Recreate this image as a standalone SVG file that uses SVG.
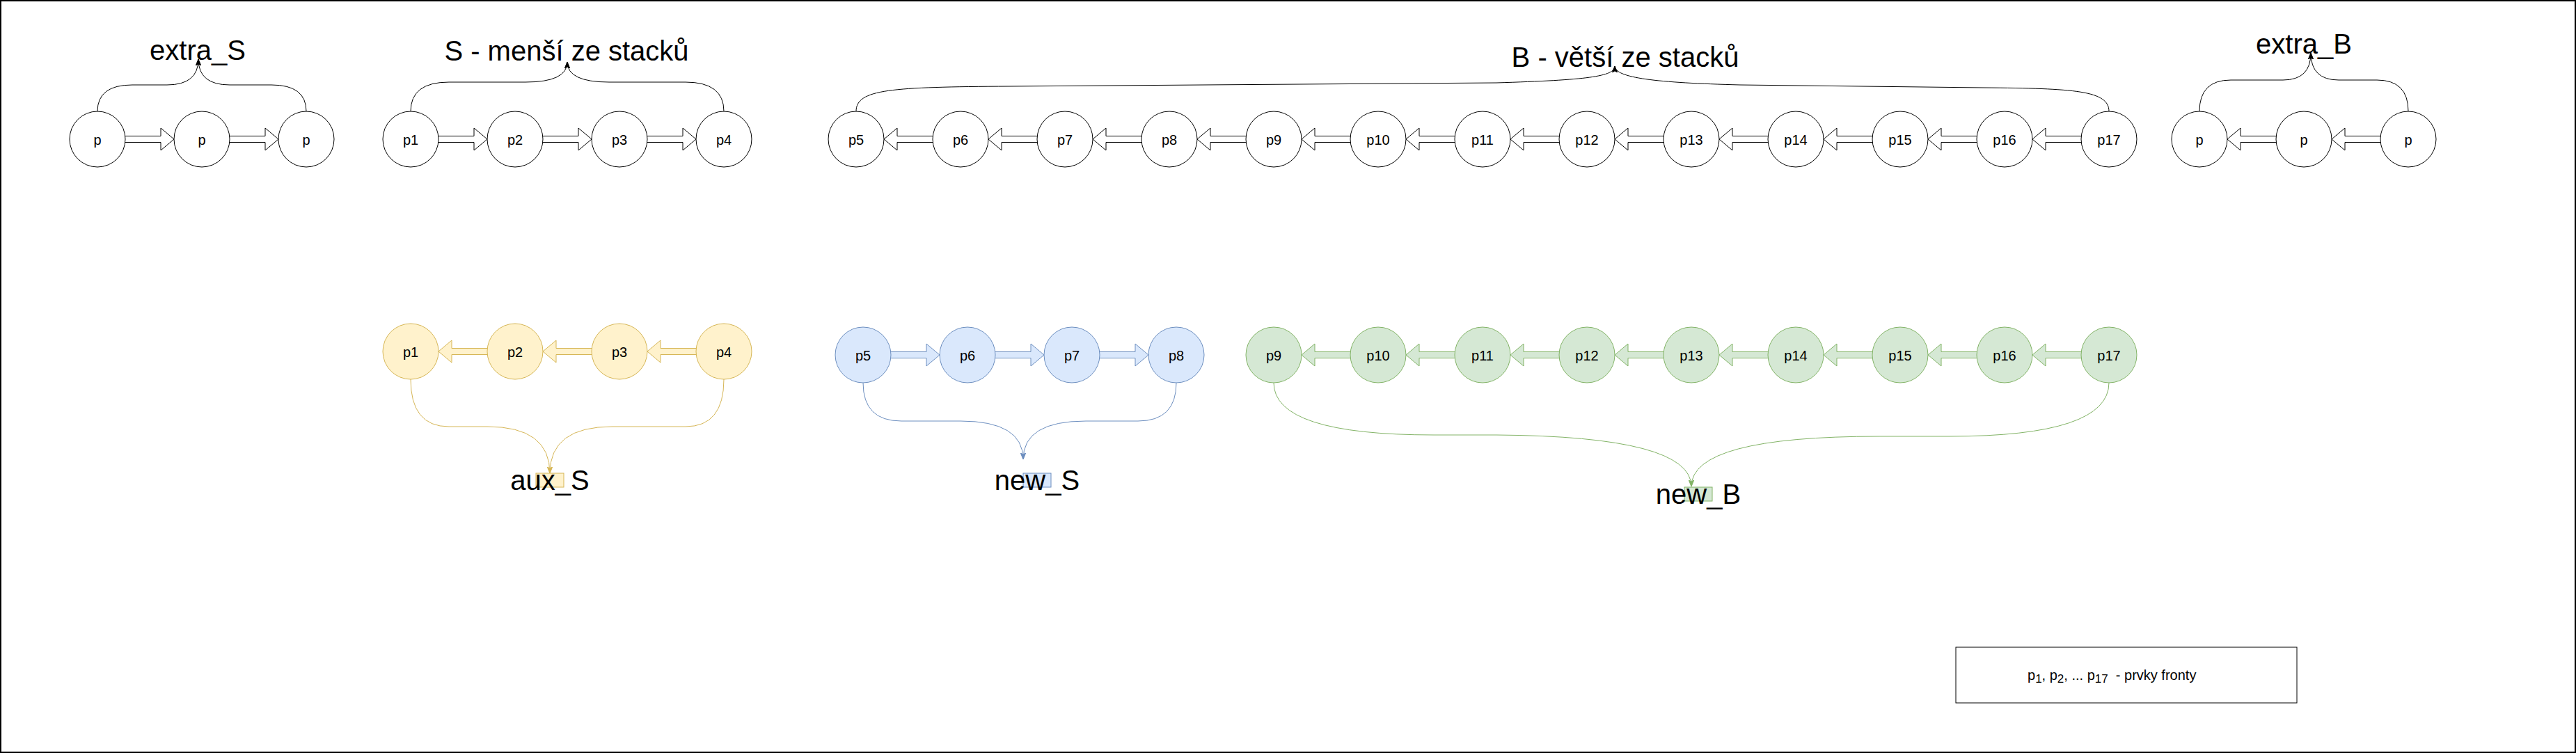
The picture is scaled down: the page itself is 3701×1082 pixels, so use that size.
<svg xmlns="http://www.w3.org/2000/svg" xmlns:xlink="http://www.w3.org/1999/xlink" width="3701" height="1082" viewBox="0 0 3701 1082">
<style>
.t{font-family:"Liberation Sans",Arial,Helvetica,sans-serif;fill:#000}
.lbl{font-size:20px;text-anchor:middle}
.ttl{font-size:40px;text-anchor:middle}
.leg{font-size:20px}
.sub{font-size:17px}
.nk{fill:#fff;stroke:#000;stroke-width:1}
.ny{fill:#fff2cc;stroke:#d6b656;stroke-width:1}
.nb{fill:#dae8fc;stroke:#6c8ebf;stroke-width:1}
.ng{fill:#d5e8d4;stroke:#82b366;stroke-width:1}
.ek{fill:none;stroke:#000;stroke-width:1}
.ey{fill:none;stroke:#d6b656;stroke-width:1}
.eb{fill:none;stroke:#6c8ebf;stroke-width:1}
.eg{fill:none;stroke:#82b366;stroke-width:1}
</style>
<defs>
<polygon id="far" points="38,-4.5 91,-4.5 91,-16 110,0 91,16 91,4.5 38,4.5"/>
<polygon id="fal" points="112,-4.5 59,-4.5 59,-16 40,0 59,16 59,4.5 112,4.5"/>
<marker id="mk" markerUnits="userSpaceOnUse" markerWidth="9" markerHeight="9" viewBox="0 0 10 10" refX="10" refY="5" orient="auto"><path d="M0,1 L10,5 L0,9 L2.5,5 Z" fill="#000" stroke="#000" stroke-width="0.8"/></marker>
<marker id="my" markerUnits="userSpaceOnUse" markerWidth="9" markerHeight="9" viewBox="0 0 10 10" refX="10" refY="5" orient="auto"><path d="M0,1 L10,5 L0,9 L2.5,5 Z" fill="#d6b656" stroke="#d6b656" stroke-width="0.8"/></marker>
<marker id="mb" markerUnits="userSpaceOnUse" markerWidth="9" markerHeight="9" viewBox="0 0 10 10" refX="10" refY="5" orient="auto"><path d="M0,1 L10,5 L0,9 L2.5,5 Z" fill="#6c8ebf" stroke="#6c8ebf" stroke-width="0.8"/></marker>
<marker id="mg" markerUnits="userSpaceOnUse" markerWidth="9" markerHeight="9" viewBox="0 0 10 10" refX="10" refY="5" orient="auto"><path d="M0,1 L10,5 L0,9 L2.5,5 Z" fill="#82b366" stroke="#82b366" stroke-width="0.8"/></marker>
</defs>
<rect x="0" y="0" width="3701" height="1082" fill="#fff"/>
<rect id="frame" x="1" y="1" width="3699" height="1080" fill="none" stroke="#000" stroke-width="2"/>

<g id="connectors">
<!-- flex arrows row 1 -->
<g class="nk">
<use xlink:href="#far" x="140" y="200"/>
<use xlink:href="#far" x="290" y="200"/>
<use xlink:href="#far" x="590" y="200"/>
<use xlink:href="#far" x="740" y="200"/>
<use xlink:href="#far" x="890" y="200"/>
<use xlink:href="#fal" x="1230" y="200"/>
<use xlink:href="#fal" x="1380" y="200"/>
<use xlink:href="#fal" x="1530" y="200"/>
<use xlink:href="#fal" x="1680" y="200"/>
<use xlink:href="#fal" x="1830" y="200"/>
<use xlink:href="#fal" x="1980" y="200"/>
<use xlink:href="#fal" x="2130" y="200"/>
<use xlink:href="#fal" x="2280" y="200"/>
<use xlink:href="#fal" x="2430" y="200"/>
<use xlink:href="#fal" x="2580" y="200"/>
<use xlink:href="#fal" x="2730" y="200"/>
<use xlink:href="#fal" x="2880" y="200"/>
<use xlink:href="#fal" x="3160" y="200"/>
<use xlink:href="#fal" x="3310" y="200"/>
</g>
<g class="ny">
<use xlink:href="#fal" x="590" y="505"/>
<use xlink:href="#fal" x="740" y="505"/>
<use xlink:href="#fal" x="890" y="505"/>
</g>
<g class="nb">
<use xlink:href="#far" x="1240" y="510"/>
<use xlink:href="#far" x="1390" y="510"/>
<use xlink:href="#far" x="1540" y="510"/>
</g>
<g class="ng">
<use xlink:href="#fal" x="1830" y="510"/>
<use xlink:href="#fal" x="1980" y="510"/>
<use xlink:href="#fal" x="2130" y="510"/>
<use xlink:href="#fal" x="2280" y="510"/>
<use xlink:href="#fal" x="2430" y="510"/>
<use xlink:href="#fal" x="2580" y="510"/>
<use xlink:href="#fal" x="2730" y="510"/>
<use xlink:href="#fal" x="2880" y="510"/>
</g>
<!-- curved edges to titles -->
<path class="ek" marker-end="url(#mk)" d="M140,160 Q140,122 190,122 L240,122 Q285,122 285,85"/>
<path class="ek" marker-end="url(#mk)" d="M440,160 Q440,122 390,122 L330,122 Q285,122 285,85"/>
<path class="ek" marker-end="url(#mk)" d="M590,160 Q590,118 645,118 L755,118 Q815,118 815,89"/>
<path class="ek" marker-end="url(#mk)" d="M1040,160 Q1040,118 985,118 L875,118 Q815,118 815,89"/>
<path class="ek" marker-end="url(#mk)" d="M1230,160 C1230,128 1280,125 1450,124 L2150,119 C2280,115 2320,110 2320,95"/>
<path class="ek" marker-end="url(#mk)" d="M3030,160 C3030,130 2980,127 2850,126 L2500,122 C2380,119 2320,112 2320,95"/>
<path class="ek" marker-end="url(#mk)" d="M3160,160 Q3160,115 3205,115 L3280,115 Q3320,115 3320,76"/>
<path class="ek" marker-end="url(#mk)" d="M3460,160 Q3460,115 3415,115 L3360,115 Q3320,115 3320,76"/>
<!-- curved edges to row-2 labels -->
<path class="ey" marker-end="url(#my)" d="M590,545 Q590,613 645,613 L700,613 Q790,613 790,680"/>
<path class="ey" marker-end="url(#my)" d="M1040,545 Q1040,613 985,613 L880,613 Q790,613 790,680"/>
<path class="eb" marker-end="url(#mb)" d="M1240,550 Q1240,605 1295,605 L1380,605 Q1470,605 1470,660"/>
<path class="eb" marker-end="url(#mb)" d="M1690,550 Q1690,605 1635,605 L1560,605 Q1470,605 1470,660"/>
<path class="eg" marker-end="url(#mg)" d="M1830,550 Q1830,625 2060,625 L2150,625 Q2430,627 2430,699"/>
<path class="eg" marker-end="url(#mg)" d="M3030,550 Q3030,627 2800,627 L2700,627 Q2430,627 2430,699"/>
</g>

<!-- titles -->
<g id="title-extra-S"><text class="t ttl" x="284" y="86">extra_S</text></g>
<g id="title-S"><text class="t ttl" x="814" y="87">S - menší ze stacků</text></g>
<g id="title-B"><text class="t ttl" x="2335" y="96">B - větší ze stacků</text></g>
<g id="title-extra-B"><text class="t ttl" x="3310" y="77">extra_B</text></g>

<!-- row 1 nodes -->
<g id="es1"><circle class="nk" cx="140" cy="200" r="40"/><text class="t lbl" x="140" y="208">p</text></g>
<g id="es2"><circle class="nk" cx="290" cy="200" r="40"/><text class="t lbl" x="290" y="208">p</text></g>
<g id="es3"><circle class="nk" cx="440" cy="200" r="40"/><text class="t lbl" x="440" y="208">p</text></g>
<g id="s1"><circle class="nk" cx="590" cy="200" r="40"/><text class="t lbl" x="590" y="208">p1</text></g>
<g id="s2"><circle class="nk" cx="740" cy="200" r="40"/><text class="t lbl" x="740" y="208">p2</text></g>
<g id="s3"><circle class="nk" cx="890" cy="200" r="40"/><text class="t lbl" x="890" y="208">p3</text></g>
<g id="s4"><circle class="nk" cx="1040" cy="200" r="40"/><text class="t lbl" x="1040" y="208">p4</text></g>
<g id="b5"><circle class="nk" cx="1230" cy="200" r="40"/><text class="t lbl" x="1230" y="208">p5</text></g>
<g id="b6"><circle class="nk" cx="1380" cy="200" r="40"/><text class="t lbl" x="1380" y="208">p6</text></g>
<g id="b7"><circle class="nk" cx="1530" cy="200" r="40"/><text class="t lbl" x="1530" y="208">p7</text></g>
<g id="b8"><circle class="nk" cx="1680" cy="200" r="40"/><text class="t lbl" x="1680" y="208">p8</text></g>
<g id="b9"><circle class="nk" cx="1830" cy="200" r="40"/><text class="t lbl" x="1830" y="208">p9</text></g>
<g id="b10"><circle class="nk" cx="1980" cy="200" r="40"/><text class="t lbl" x="1980" y="208">p10</text></g>
<g id="b11"><circle class="nk" cx="2130" cy="200" r="40"/><text class="t lbl" x="2130" y="208">p11</text></g>
<g id="b12"><circle class="nk" cx="2280" cy="200" r="40"/><text class="t lbl" x="2280" y="208">p12</text></g>
<g id="b13"><circle class="nk" cx="2430" cy="200" r="40"/><text class="t lbl" x="2430" y="208">p13</text></g>
<g id="b14"><circle class="nk" cx="2580" cy="200" r="40"/><text class="t lbl" x="2580" y="208">p14</text></g>
<g id="b15"><circle class="nk" cx="2730" cy="200" r="40"/><text class="t lbl" x="2730" y="208">p15</text></g>
<g id="b16"><circle class="nk" cx="2880" cy="200" r="40"/><text class="t lbl" x="2880" y="208">p16</text></g>
<g id="b17"><circle class="nk" cx="3030" cy="200" r="40"/><text class="t lbl" x="3030" y="208">p17</text></g>
<g id="eb1"><circle class="nk" cx="3160" cy="200" r="40"/><text class="t lbl" x="3160" y="208">p</text></g>
<g id="eb2"><circle class="nk" cx="3310" cy="200" r="40"/><text class="t lbl" x="3310" y="208">p</text></g>
<g id="eb3"><circle class="nk" cx="3460" cy="200" r="40"/><text class="t lbl" x="3460" y="208">p</text></g>

<!-- row 2: aux_S (yellow) -->
<g id="a1"><circle class="ny" cx="590" cy="505" r="40"/><text class="t lbl" x="590" y="513">p1</text></g>
<g id="a2"><circle class="ny" cx="740" cy="505" r="40"/><text class="t lbl" x="740" y="513">p2</text></g>
<g id="a3"><circle class="ny" cx="890" cy="505" r="40"/><text class="t lbl" x="890" y="513">p3</text></g>
<g id="a4"><circle class="ny" cx="1040" cy="505" r="40"/><text class="t lbl" x="1040" y="513">p4</text></g>
<!-- new_S (blue) -->
<g id="ns5"><circle class="nb" cx="1240" cy="510" r="40"/><text class="t lbl" x="1240" y="518">p5</text></g>
<g id="ns6"><circle class="nb" cx="1390" cy="510" r="40"/><text class="t lbl" x="1390" y="518">p6</text></g>
<g id="ns7"><circle class="nb" cx="1540" cy="510" r="40"/><text class="t lbl" x="1540" y="518">p7</text></g>
<g id="ns8"><circle class="nb" cx="1690" cy="510" r="40"/><text class="t lbl" x="1690" y="518">p8</text></g>
<!-- new_B (green) -->
<g id="nb9"><circle class="ng" cx="1830" cy="510" r="40"/><text class="t lbl" x="1830" y="518">p9</text></g>
<g id="nb10"><circle class="ng" cx="1980" cy="510" r="40"/><text class="t lbl" x="1980" y="518">p10</text></g>
<g id="nb11"><circle class="ng" cx="2130" cy="510" r="40"/><text class="t lbl" x="2130" y="518">p11</text></g>
<g id="nb12"><circle class="ng" cx="2280" cy="510" r="40"/><text class="t lbl" x="2280" y="518">p12</text></g>
<g id="nb13"><circle class="ng" cx="2430" cy="510" r="40"/><text class="t lbl" x="2430" y="518">p13</text></g>
<g id="nb14"><circle class="ng" cx="2580" cy="510" r="40"/><text class="t lbl" x="2580" y="518">p14</text></g>
<g id="nb15"><circle class="ng" cx="2730" cy="510" r="40"/><text class="t lbl" x="2730" y="518">p15</text></g>
<g id="nb16"><circle class="ng" cx="2880" cy="510" r="40"/><text class="t lbl" x="2880" y="518">p16</text></g>
<g id="nb17"><circle class="ng" cx="3030" cy="510" r="40"/><text class="t lbl" x="3030" y="518">p17</text></g>

<!-- target labels -->
<g id="aux-S"><rect class="ny" x="770" y="680" width="40" height="20"/><text class="t ttl" x="790" y="704">aux_S</text></g>
<g id="new-S"><rect class="nb" x="1470" y="680" width="40" height="20"/><text class="t ttl" x="1490" y="704">new_S</text></g>
<g id="new-B"><rect class="ng" x="2420" y="700" width="40" height="20"/><text class="t ttl" x="2440" y="724">new_B</text></g>

<!-- legend -->
<g id="legend">
<rect x="2810" y="930" width="490" height="80" fill="#fff" stroke="#000" stroke-width="1"/>
<text class="t leg" x="2913" y="977" xml:space="preserve">p<tspan class="sub" dy="4">1</tspan><tspan dy="-4">, p</tspan><tspan class="sub" dy="4">2</tspan><tspan dy="-4">, ... p</tspan><tspan class="sub" dy="4">17</tspan><tspan dy="-4">  - prvky fronty</tspan></text>
</g>
</svg>
